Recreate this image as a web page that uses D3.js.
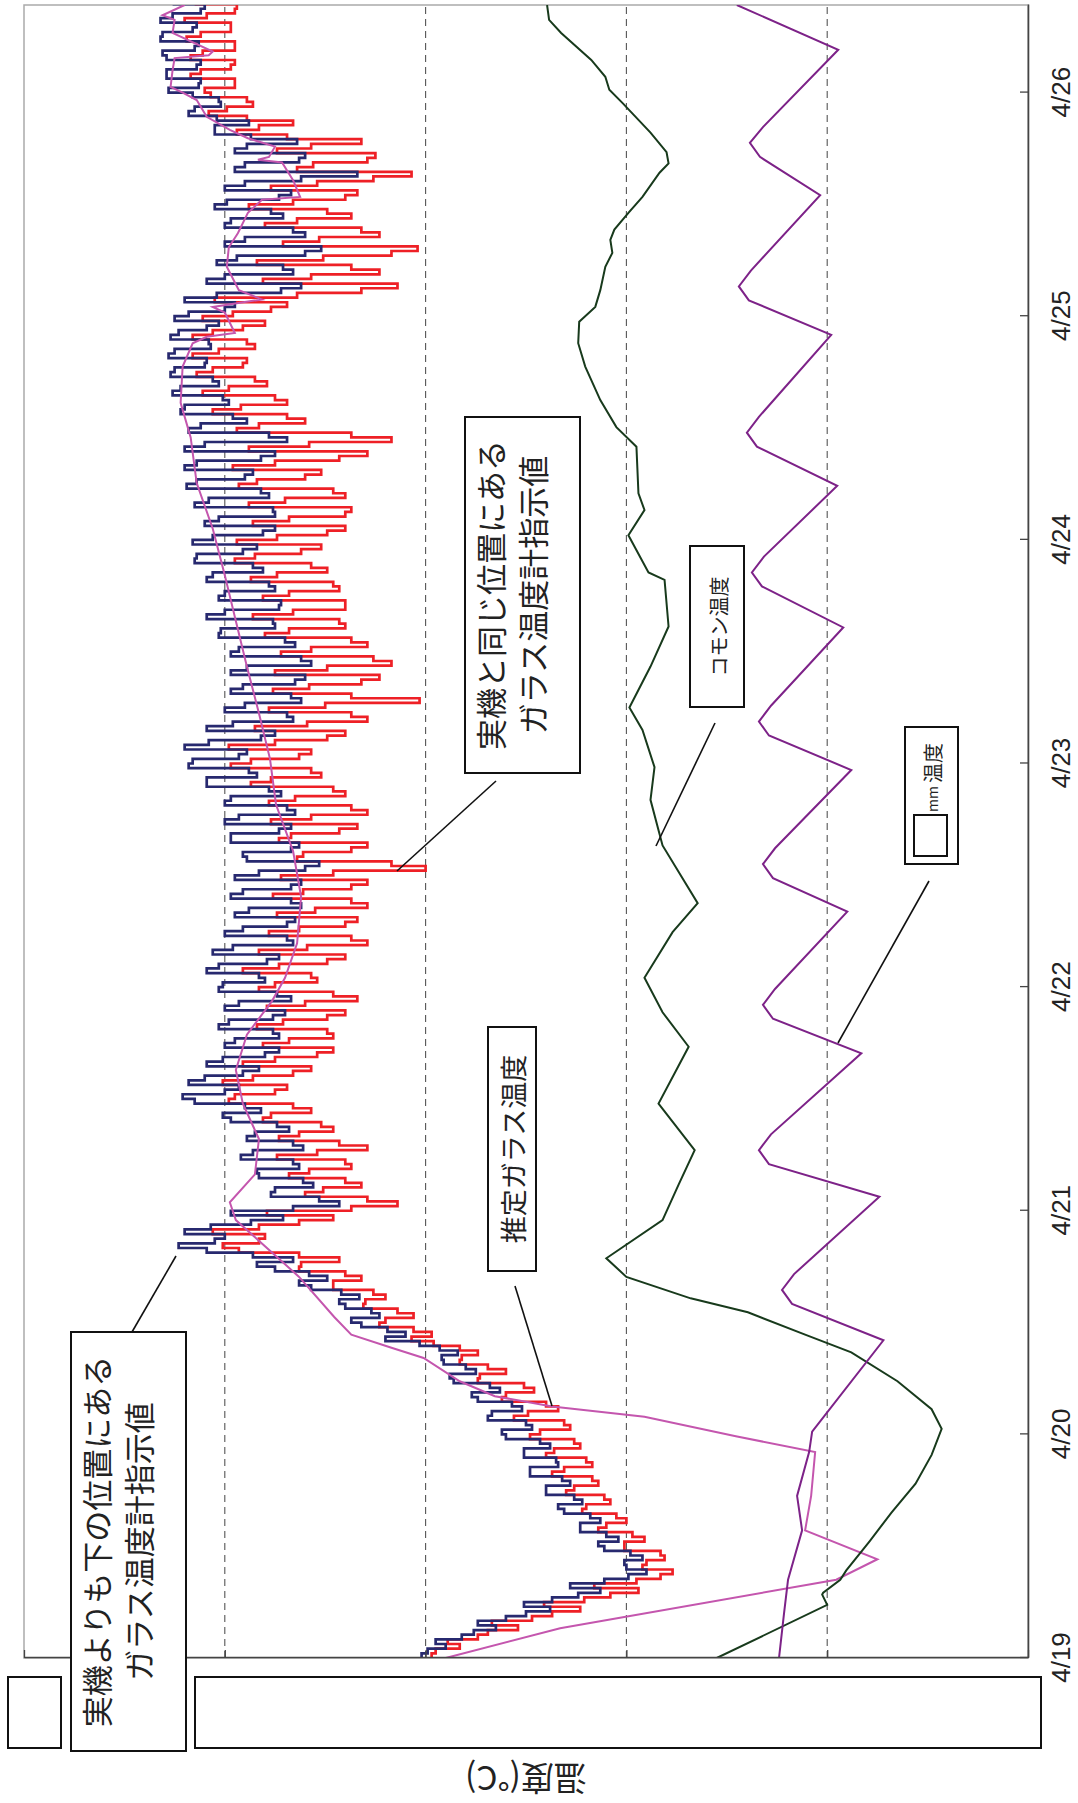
<!DOCTYPE html>
<html>
<head>
<meta charset="utf-8">
<script src="https://cdn.jsdelivr.net/npm/d3@7"></script>
<style>
  html, body { margin: 0; padding: 0; background: #fff; }
  svg { display: block; }
</style>
</head>
<body>
<div id="chart"></div>
<script>
// --- values ---
// time is in hours from 4/19 0:00, temperatures in degC
var dayLabels = ["4/19", "4/20", "4/21", "4/22", "4/23", "4/24", "4/25", "4/26"];
var gridTemps = [10, 20, 30, 40];
var tempTicks = [0, 10, 20, 30, 40, 50];
var tempDomain = [0, 50];
var lastHour = 177.4;
var glassStep = 0.5; // the glass thermometers are read every half hour

// glass thermometer below the real unit (navy)
var lowerGlass = [
  30.2, 29.9, 29.0, 29.5, 28.2, 27.6, 26.5, 27.4, 26.0, 25.0,
  23.8, 25.1, 23.7, 22.4, 21.3, 22.8, 21.1, 19.9, 19.0, 20.0,
  20.1, 19.2, 19.8, 21.1, 21.4, 20.4, 21.0, 22.3, 22.3, 21.3,
  21.8, 23.1, 23.4, 22.2, 22.6, 24.0, 24.0, 22.8, 23.2, 24.8,
  24.8, 23.4, 23.5, 25.1, 25.1, 23.8, 24.3, 26.0, 26.2, 24.7,
  25.0, 26.9, 26.7, 25.2, 25.7, 27.4, 27.7, 26.3, 26.8, 28.6,
  28.8, 27.5, 28.0, 29.1, 29.2, 28.4, 29.3, 30.3, 32.0, 31.0,
  31.9, 33.2, 33.7, 32.3, 32.7, 34.0, 34.3, 33.3, 34.2, 35.7,
  36.3, 34.9, 35.8, 37.5, 38.4, 36.6, 38.6, 40.9, 42.3, 40.5,
  40.0, 42.0, 40.7, 38.7, 37.1, 39.7, 36.6, 34.3, 35.3, 37.7,
  37.5, 35.6, 36.1, 38.3, 38.4, 36.3, 36.6, 39.2, 38.6, 36.1,
  36.6, 38.9, 38.5, 36.8, 37.4, 39.7, 40.1, 38.2, 39.0, 41.5,
  42.1, 40.0, 39.3, 41.8, 41.0, 39.1, 38.3, 40.9, 40.1, 38.0,
  37.3, 40.0, 39.5, 37.3, 37.6, 40.3, 39.8, 37.6, 37.0, 40.0,
  39.3, 36.7, 37.4, 40.3, 40.1, 38.0, 38.3, 40.9, 40.3, 37.9,
  37.3, 40.6, 39.6, 36.6, 36.9, 40.0, 39.1, 36.9, 36.5, 39.5,
  38.8, 36.2, 36.7, 39.7, 39.1, 36.7, 36.2, 39.5, 38.3, 36.0,
  35.3, 38.9, 39.1, 36.7, 36.3, 39.7, 39.7, 37.3, 36.7, 40.0,
  39.3, 36.5, 36.9, 40.0, 39.7, 37.2, 37.8, 40.9, 40.9, 38.4,
  38.8, 41.8, 41.6, 39.3, 38.9, 42.0, 40.8, 38.2, 37.5, 40.9,
  39.6, 36.6, 36.9, 40.0, 39.0, 36.2, 36.7, 39.7, 39.1, 36.5,
  36.0, 39.7, 38.9, 35.7, 36.2, 39.7, 39.3, 36.5, 37.0, 40.3,
  40.2, 37.5, 37.6, 40.9, 40.0, 37.3, 37.2, 40.3, 40.0, 37.5,
  37.8, 40.9, 40.6, 38.1, 38.6, 41.5, 41.4, 39.1, 38.4, 41.6,
  40.6, 38.1, 37.5, 41.0, 40.3, 37.5, 37.6, 41.5, 40.8, 37.8,
  38.2, 41.9, 41.4, 39.0, 38.6, 42.0, 41.4, 38.2, 37.5, 42.0,
  41.0, 36.9, 37.8, 41.8, 41.2, 38.9, 39.6, 42.2, 42.0, 39.8,
  40.1, 42.6, 42.2, 40.3, 40.6, 42.7, 42.5, 41.0, 40.9, 42.8,
  42.5, 40.7, 40.8, 42.7, 42.3, 40.9, 40.3, 42.5, 41.8, 40.0,
  39.5, 42.0, 40.4, 37.2, 36.2, 40.9, 40.0, 36.6, 37.1, 40.4,
  39.4, 36.0, 35.2, 40.0, 39.0, 36.0, 36.6, 40.0, 39.7, 37.1,
  37.7, 40.5, 39.9, 37.3, 36.7, 40.0, 39.0, 36.2, 33.4, 39.5,
  39.0, 36.3, 36.0, 39.5, 38.9, 36.4, 38.7, 40.5, 40.5, 38.8,
  40.4, 41.8, 41.5, 40.2, 40.3, 41.6, 42.8, 41.3, 41.2, 42.9,
  42.9, 41.4, 41.2, 42.9, 43.1, 41.5, 41.3, 43.2, 43.1, 41.6,
  41.4, 43.2, 42.6, 41.2, 41.0, 42.6
];

// glass thermometer at the same position as the real unit (red)
var sameGlass = [
  29.7, 29.5, 28.3, 28.9, 27.4, 26.9, 25.4, 26.7, 24.7, 23.7,
  22.3, 24.1, 22.1, 20.8, 19.4, 21.6, 19.5, 18.3, 17.7, 19.2,
  19.0, 18.1, 18.3, 20.1, 20.1, 19.1, 19.7, 21.4, 21.0, 20.0,
  20.5, 22.2, 22.0, 20.8, 21.1, 23.0, 22.6, 21.4, 21.7, 23.7,
  23.1, 21.7, 22.0, 24.0, 23.6, 22.3, 22.6, 24.8, 24.3, 22.8,
  23.1, 25.6, 24.9, 23.4, 24.0, 26.2, 26.0, 24.6, 25.1, 27.4,
  27.3, 26.0, 26.9, 28.3, 28.2, 27.4, 28.3, 29.6, 30.7, 29.7,
  30.6, 32.3, 32.0, 30.6, 31.4, 33.1, 33.0, 32.0, 32.6, 34.6,
  34.6, 33.2, 34.0, 36.3, 36.2, 34.3, 36.3, 39.3, 40.1, 38.3,
  38.0, 40.6, 38.3, 36.3, 34.6, 37.9, 33.7, 31.4, 32.9, 36.0,
  35.1, 33.2, 34.0, 36.8, 35.8, 33.7, 34.0, 37.4, 35.4, 32.9,
  34.3, 37.3, 36.3, 34.6, 35.2, 38.1, 37.7, 35.7, 36.6, 39.8,
  39.5, 37.5, 36.9, 40.1, 38.6, 36.6, 35.7, 39.1, 37.5, 35.4,
  34.6, 38.1, 36.8, 34.6, 34.9, 38.4, 37.1, 34.9, 34.0, 37.9,
  36.0, 33.4, 34.6, 38.3, 37.5, 35.4, 35.7, 39.1, 37.3, 34.9,
  34.0, 38.3, 35.9, 32.9, 33.7, 37.8, 36.3, 34.0, 33.4, 37.4,
  35.5, 32.9, 33.7, 37.6, 36.1, 33.7, 32.9, 37.2, 34.6, 30.0,
  31.7, 36.4, 36.1, 33.7, 32.9, 37.3, 36.7, 34.3, 33.4, 37.7,
  35.7, 32.9, 33.7, 37.8, 36.5, 34.0, 34.6, 38.7, 37.7, 35.2,
  35.7, 39.7, 38.7, 36.3, 35.7, 39.8, 37.5, 34.9, 34.0, 38.5,
  35.9, 32.9, 33.7, 37.8, 35.0, 30.3, 33.7, 37.6, 35.8, 33.2,
  32.3, 37.5, 34.9, 31.7, 32.6, 37.2, 35.7, 32.9, 33.7, 38.0,
  36.8, 34.0, 34.3, 38.6, 36.6, 34.0, 34.0, 38.1, 36.8, 34.3,
  34.6, 38.7, 37.4, 34.9, 35.7, 39.5, 38.5, 36.2, 35.2, 39.4,
  37.4, 34.9, 34.0, 38.6, 36.8, 34.0, 33.7, 38.8, 37.0, 34.0,
  34.6, 39.3, 38.4, 36.0, 35.2, 39.6, 37.5, 34.3, 32.9, 38.8,
  35.8, 31.7, 33.7, 39.4, 38.3, 36.0, 36.9, 40.6, 39.2, 36.9,
  37.5, 41.1, 39.8, 37.9, 38.5, 41.4, 40.6, 39.1, 38.9, 41.6,
  40.3, 38.5, 38.9, 41.6, 40.6, 39.1, 38.0, 41.1, 39.6, 37.7,
  36.9, 40.5, 36.4, 33.2, 31.4, 38.1, 35.7, 32.3, 33.7, 38.4,
  35.1, 31.7, 30.4, 37.1, 35.3, 32.3, 33.2, 38.0, 36.4, 33.7,
  34.9, 38.8, 36.6, 34.0, 33.4, 37.7, 35.4, 32.6, 30.7, 36.4,
  35.6, 32.9, 32.5, 37.4, 35.7, 33.2, 36.9, 39.4, 38.3, 36.6,
  38.9, 40.8, 39.9, 38.6, 38.9, 40.7, 41.0, 39.5, 39.5, 41.7,
  41.2, 39.7, 39.5, 41.7, 41.1, 39.5, 39.5, 41.9, 41.2, 39.7,
  39.7, 42.0, 40.9, 39.5, 39.4, 41.5
];

// estimated glass temperature (pink)
var estHours = [
  0, 3.2, 8.4, 10.6, 13.7, 17.4, 22.1, 23.8, 25.9, 27.0,
  28.1, 29.7, 32.2, 33.3, 34.7, 36.6, 40.9, 47.0, 48.9, 51.9,
  55.7, 59.5, 63.1, 66.9, 70.5, 73.0, 76.7, 81.7, 86.6, 91.6,
  96.5, 101.4, 106.4, 111.3, 116.2, 121.2, 126.1, 131.0, 134.7, 138.6,
  141.1, 141.8, 142.2, 144.4, 145.0, 145.8, 146.8, 149.3, 151.4, 152.9,
  155.1, 156.5, 156.8, 158.6, 160.5, 160.8, 161.1, 162.2, 163.1, 164.0,
  165.4, 167.2, 168.0, 168.6, 170.4, 171.7, 172.0, 172.4, 174.4, 175.8,
  176.3, 177.4
];
var estTemps = [
  29.0, 23.3, 9.55, 7.5, 11.1, 10.8, 10.6, 14.55, 19.1, 23.7,
  26.55, 28.3, 30.1, 31.7, 33.7, 34.55, 36.3, 39.45, 39.75, 38.5,
  38.3, 39.1, 39.45, 38.9, 37.65, 37.0, 36.4, 36.2, 36.6, 37.45,
  37.75, 38.3, 38.9, 39.45, 40.0, 40.6, 41.4, 41.7, 42.2, 42.1,
  41.6, 40.9, 39.5, 40.0, 40.6, 38.15, 39.3, 39.9, 39.8, 39.35,
  38.85, 38.15, 36.25, 36.6, 37.15, 38.35, 37.8, 37.5, 38.85, 39.75,
  40.9, 41.4, 42.1, 42.7, 42.6, 42.5, 40.8, 40.6, 42.6, 42.5,
  43.1, 42.0
];

// common (room) temperature, dark green
var commonHours = [
  0, 5.7, 6.8, 7.0, 8.4, 9.4, 12.5, 15.6, 18.7, 21.8,
  24.6, 26.7, 29.7, 32.8, 34.7, 37.1, 38.6, 40.9, 42.9, 47.0,
  50.8, 54.5, 59.5, 65.6, 69.3, 73.0, 77.9, 81.0, 87.2, 92.1,
  95.6, 99.6, 102.0, 106.4, 110.7, 115.7, 116.5, 120.5, 123.2, 125.0,
  130.0, 132.1, 135.0, 138.6, 141.1, 143.4, 145.0, 146.8, 149.3, 150.8,
  152.2, 153.3, 155.1, 156.8, 159.4, 160.4, 161.6, 163.7, 166.9, 168.3,
  169.7, 171.5, 174.4, 175.8, 177.4
];
var commonTemps = [
  15.5, 10.0, 10.25, 10.2, 9.35, 9.05, 7.9, 6.8, 5.6, 4.8,
  4.3, 4.8, 6.5, 8.8, 11.1, 13.95, 16.8, 20.0, 21.0, 18.2,
  17.4, 16.6, 18.4, 16.9, 18.2, 19.1, 17.7, 16.45, 18.2, 18.8,
  18.6, 19.2, 19.85, 18.8, 17.9, 18.1, 18.9, 19.9, 19.1, 19.4,
  19.5, 20.5, 21.3, 22.05, 22.4, 22.35, 21.55, 21.3, 21.05, 20.7,
  20.8, 20.6, 19.9, 19.2, 18.35, 17.9, 18.0, 18.8, 20.2, 20.85,
  21.05, 21.75, 23.25, 23.85, 23.95
];

// "mm" temperature, purple zigzag
var mmHours = [
  0, 4.8, 8.4, 13.7, 17.4, 22.1, 24.3, 34.1, 38.0, 39.5,
  41.2, 49.5, 53.0, 54.5, 56.2, 64.9, 68.6, 70.1, 71.8, 80.1,
  83.7, 85.2, 86.9, 95.3, 99.0, 100.5, 102.2, 110.6, 115.0, 116.5,
  118.2, 125.8, 130.0, 131.5, 133.2, 142.0, 145.7, 147.2, 148.9, 157.0,
  161.1, 162.6, 164.3, 172.6, 177.4
];
var mmTemps = [
  12.4, 12.15, 11.95, 11.25, 11.5, 10.9, 10.75, 7.2, 11.75, 12.25,
  11.65, 7.4, 12.9, 13.4, 12.8, 8.3, 12.7, 13.2, 12.6, 9.0,
  12.7, 13.2, 12.6, 8.8, 12.9, 13.4, 12.8, 9.2, 13.25, 13.75,
  13.15, 9.5, 13.5, 14.0, 13.4, 9.8, 13.9, 14.4, 13.8, 10.35,
  13.35, 13.85, 13.2, 9.45, 14.5
];

/*
 ************************
 *** HELPER FUNCTIONS ***
 ************************
 */
var start = new Date(2009, 3, 19);

function atHour(h) {
  return new Date(start.getTime() + h * 3600 * 1000);
}

// --- pair hours with temperatures ---
function zipSeries(hours, temps) {
  var res = [];
  for (var i = 0; i < temps.length; i++) {
    res.push({ date: atHour(hours[i]), temp: temps[i] });
  }
  return res;
}

function everyStep(temps, step) {
  var hours = d3.range(temps.length).map(function (i) { return i * step; });
  return zipSeries(hours, temps);
}

function translate(x, y) {
  return "translate(" + x + ", " + y + ")";
}

var JP = "'Noto Sans CJK JP', 'Noto Sans', sans-serif";

// --- the chart is an ordinary time chart, turned a quarter left ---
function drawChart() {
  var svg = d3.select("#chart").append("svg")
    .attr("width", 1078)
    .attr("height", 1803);

  var W = 1653, H = 1004; // plot size before rotation
  var x = d3.scaleTime().domain([start, atHour(lastHour)]).range([0, W]);
  var y = d3.scaleLinear().domain(tempDomain).range([H, 0]);

  var g = svg.append("g").attr("transform", translate(24, 1658) + " rotate(-90)");

  g.append("defs").append("clipPath").attr("id", "plotclip")
    .append("rect").attr("width", W).attr("height", H);

  // light frame (top / right of the unrotated chart)
  g.append("rect")
    .attr("width", W).attr("height", H)
    .attr("fill", "#fff")
    .attr("stroke", "#aaa")
    .attr("stroke-width", 1.5);

  // dashed grid
  g.selectAll(".grid").data(gridTemps).enter()
    .append("line")
    .attr("class", "grid")
    .attr("x1", 0).attr("x2", W)
    .attr("y1", function (d) { return y(d); })
    .attr("y2", function (d) { return y(d); })
    .attr("stroke", "#555")
    .attr("stroke-width", 1.1)
    .attr("stroke-dasharray", "7,5");

  var plot = g.append("g").attr("clip-path", "url(#plotclip)");

  var stepLine = d3.line()
    .x(function (d) { return x(d.date); })
    .y(function (d) { return y(d.temp); })
    .curve(d3.curveStepAfter);
  var plainLine = d3.line()
    .x(function (d) { return x(d.date); })
    .y(function (d) { return y(d.temp); });

  plot.append("path").datum(everyStep(sameGlass, glassStep))
    .attr("d", stepLine).attr("fill", "none")
    .attr("stroke", "#ee2026").attr("stroke-width", 2.7);
  plot.append("path").datum(everyStep(lowerGlass, glassStep))
    .attr("d", stepLine).attr("fill", "none")
    .attr("stroke", "#27296f").attr("stroke-width", 2.7);
  plot.append("path").datum(zipSeries(estHours, estTemps))
    .attr("d", plainLine).attr("fill", "none")
    .attr("stroke", "#c456ae").attr("stroke-width", 2);
  plot.append("path").datum(zipSeries(commonHours, commonTemps))
    .attr("d", plainLine).attr("fill", "none")
    .attr("stroke", "#183a1c").attr("stroke-width", 2);
  plot.append("path").datum(zipSeries(mmHours, mmTemps))
    .attr("d", plainLine).attr("fill", "none")
    .attr("stroke", "#7d2288").attr("stroke-width", 2);

  // time axis (ends up on the right)
  var dayDates = dayLabels.map(function (d, i) { return atHour(24 * i); });
  var xAxis = g.append("g")
    .attr("transform", translate(0, H))
    .call(d3.axisBottom(x)
      .tickValues(dayDates)
      .tickFormat(function (d, i) { return dayLabels[i]; })
      .tickSizeInner(-8)
      .tickSizeOuter(0));
  xAxis.selectAll("text")
    .attr("y", 33)
    .attr("dy", "0.35em")
    .attr("font-size", "26px")
    .attr("font-family", "'Liberation Sans', Arial, sans-serif")
    .attr("fill", "#222");

  // temperature axis (ends up at the bottom), numbers are hidden
  g.append("g")
    .call(d3.axisLeft(y)
      .tickValues(tempTicks)
      .tickFormat("")
      .tickSizeInner(-8)
      .tickSizeOuter(0));

  g.selectAll(".domain").attr("stroke", "#444").attr("stroke-width", 1.6);
  g.selectAll(".tick line").attr("stroke", "#444").attr("stroke-width", 1.3);

  g.append("text")
    .attr("transform", translate(-122, H / 2) + " rotate(-90)")
    .attr("text-anchor", "middle")
    .attr("dominant-baseline", "central")
    .attr("font-family", JP)
    .attr("font-size", "33px")
    .attr("fill", "#222")
    .text("温度(°C)");

  // --- boxes covering the temperature labels ---
  var covers = [[8, 1677, 53, 71], [195, 1677, 846, 71]];
  svg.selectAll(".cover").data(covers).enter()
    .append("rect")
    .attr("class", "cover")
    .attr("x", function (d) { return d[0]; })
    .attr("y", function (d) { return d[1]; })
    .attr("width", function (d) { return d[2]; })
    .attr("height", function (d) { return d[3]; })
    .attr("fill", "#fff")
    .attr("stroke", "#111")
    .attr("stroke-width", 2);

  // --- callouts ---
  var leaders = [
    [132, 1332, 176, 1256],
    [496, 781, 397, 871],
    [515, 1286, 552, 1406],
    [715, 723, 656, 846],
    [929, 881, 838, 1043]
  ];
  svg.selectAll(".leader").data(leaders).enter()
    .append("line")
    .attr("class", "leader")
    .attr("x1", function (d) { return d[0]; })
    .attr("y1", function (d) { return d[1]; })
    .attr("x2", function (d) { return d[2]; })
    .attr("y2", function (d) { return d[3]; })
    .attr("stroke", "#111")
    .attr("stroke-width", 1.6);

  function callout(x0, y0, w, h, lines, size) {
    svg.append("rect")
      .attr("x", x0).attr("y", y0)
      .attr("width", w).attr("height", h)
      .attr("fill", "#fff")
      .attr("stroke", "#111")
      .attr("stroke-width", 2);
    lines.forEach(function (ln) {
      svg.append("text")
        .attr("transform", translate(ln[0], y0 + h / 2) + " rotate(-90)")
        .attr("text-anchor", "middle")
        .attr("dominant-baseline", "central")
        .attr("font-family", JP)
        .attr("font-size", size + "px")
        .attr("fill", "#222")
        .text(ln[1]);
    });
  }

  callout(71, 1332, 115, 419,
    [[95, "実機よりも下の位置にある"], [137, "ガラス温度計指示値"]], 31);
  callout(465, 417, 115, 356,
    [[489, "実機と同じ位置にある"], [531, "ガラス温度計指示値"]], 31);
  callout(488, 1027, 48, 244, [[512, "推定ガラス温度"]], 27);
  callout(690, 546, 54, 161, [[718, "コモン温度"]], 20);

  // "mm 温度" box, the number in front is covered by a small empty box
  svg.append("rect")
    .attr("x", 905).attr("y", 727)
    .attr("width", 53).attr("height", 137)
    .attr("fill", "#fff").attr("stroke", "#111").attr("stroke-width", 2);
  var mmText = svg.append("text")
    .attr("transform", translate(932, 812) + " rotate(-90)")
    .attr("dominant-baseline", "central")
    .attr("font-family", JP)
    .attr("fill", "#222");
  mmText.append("tspan").attr("font-size", "14px").text("mm ");
  mmText.append("tspan").attr("font-size", "20px").text("温度");
  svg.append("rect")
    .attr("x", 914).attr("y", 815)
    .attr("width", 33).attr("height", 41)
    .attr("fill", "#fff").attr("stroke", "#111").attr("stroke-width", 2);
}

drawChart();
</script>
</body>
</html>
